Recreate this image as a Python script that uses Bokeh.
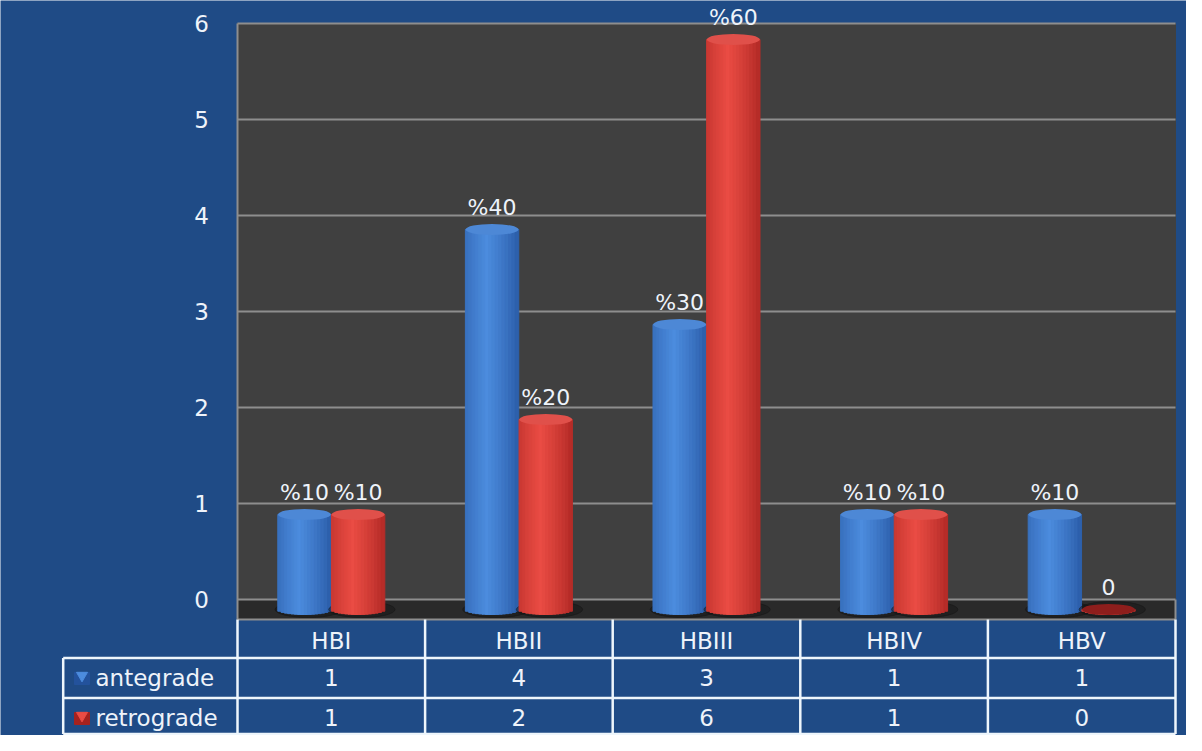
import numpy as np
from bokeh.plotting import figure
from bokeh.models import Range1d, ColumnDataSource, LabelSet
from bokeh.core.properties import value
from bokeh.embed import file_html
from bokeh.resources import INLINE

# ---------------- data ----------------
categories = ["HBI", "HBII", "HBIII", "HBIV", "HBV"]
series_names = ["antegrade", "retrograde"]
antegrade = [1, 4, 3, 1, 1]
retrograde = [1, 2, 6, 1, 0]
antegrade_labels = ["%10", "%40", "%30", "%10", "%10"]
retrograde_labels = ["%10", "%20", "%60", "%10", "0"]
y_ticks = [0, 1, 2, 3, 4, 5, 6]

# ---------------- style / layout ----------------
W, H = 1186, 735
FONT = "DejaVu Sans"
FS = "23px"
FS_LBL = "22px"
BG = "#1f4b86"
WALL = "#404040"
FLOOR = "#2a2a2a"
GRID = "#8e8e8e"
TXT = "#eef3fa"
LINE = "#eef6fc"

PX_X0 = 237.0      # left edge of plot area (figure px)
PX_CAT = 187.6     # width of one category (px)
PX_ZERO = 599.0    # value 0 gridline (px from top)
PX_UNIT = 96.0     # px per value unit
BAR_ZERO = 609.0   # base of cylinders (px from top)
BAR_UNIT = 95.0

def px(fx):
    return (fx - PX_X0) / PX_CAT

def py(fy):
    return (PX_ZERO - fy) / PX_UNIT

p = figure(width=W, height=H,
           x_range=Range1d(px(0), px(W)),
           y_range=Range1d(py(H), py(0)),
           x_axis_location=None, y_axis_location=None,
           min_border=0, toolbar_location=None, output_backend="svg",
           background_fill_color=BG, border_fill_color=BG,
           outline_line_color=None)
p.extra_y_ranges = {"bars": Range1d((BAR_ZERO - H) / BAR_UNIT, BAR_ZERO / BAR_UNIT)}
for g in p.grid:
    g.visible = False

n = len(categories)
ymax = max(y_ticks)
floor_bottom = py(619)

# back wall and floor
p.quad(left=[0], right=[n], bottom=[0], top=[ymax], color=WALL)
p.quad(left=[0], right=[n], bottom=[floor_bottom], top=[0], color=FLOOR)

# gridlines
p.segment(x0=[0] * len(y_ticks), x1=[n] * len(y_ticks), y0=y_ticks, y1=y_ticks,
          line_color=GRID, line_width=2)
p.segment(x0=[0], x1=[0], y0=[floor_bottom], y1=[ymax], line_color=GRID, line_width=2)
p.segment(x0=[n], x1=[n], y0=[floor_bottom], y1=[0], line_color=GRID, line_width=2)
p.segment(x0=[0], x1=[n], y0=[floor_bottom], y1=[floor_bottom], line_color=GRID, line_width=2)

# y tick labels
p.text(x=[px(201)] * len(y_ticks), y=y_ticks, text=[str(t) for t in y_ticks],
       text_font=value(FONT), text_font_size=FS, text_color=TXT,
       text_align="center", text_baseline="middle")

# ---------------- cylinders ----------------
BW = 0.283
OFFS = [-0.143, 0.143]
series_vals = [antegrade, retrograde]
series_lbls = [antegrade_labels, retrograde_labels]
dark_cols = [(35, 82, 156), (165, 34, 31)]
light_cols = [(76, 140, 222), (234, 76, 68)]
cap_cols = ["#4d88d6", "#e0504a"]
zero_cols = ["#1d4a8f", "#8e1e1c"]
NSTRIP = 16
shade_t = np.linspace(0, 1, NSTRIP)
# brightness profile across the cylinder (light slightly left of middle)
prof = np.clip(1.0 - np.abs(shade_t - 0.4) / 0.7, 0, 1) ** 0.7
bot_r = 5.0 / BAR_UNIT

for s in range(2):
    vals = series_vals[s]
    xc = [k + 0.5 + OFFS[s] for k in range(n)]
    # shadow
    p.ellipse(x=[x + 0.02 for x in xc], y=[0] * n, width=BW * 1.25, height=16,
              height_units="screen", color="#141414", alpha=0.45, y_range_name="bars")
    for j in range(NSTRIP):
        f = prof[j]
        c = tuple(int(dark_cols[s][i] + (light_cols[s][i] - dark_cols[s][i]) * f) for i in range(3))
        col = "#%02x%02x%02x" % c
        u = (j + 0.5) / NSTRIP * 2 - 1
        xs = [x - BW / 2 + (j + 0.5) * BW / NSTRIP for x in xc]
        b = -bot_r * np.sqrt(max(0.0, 1 - u * u))
        p.vbar(x=xs, top=vals, bottom=b, width=BW / NSTRIP * 1.08, color=col,
               y_range_name="bars")
    caps = [cap_cols[s] if v > 0 else zero_cols[s] for v in vals]
    p.ellipse(x=xc, y=vals, width=BW, height=11, height_units="screen",
              fill_color=caps, line_color=None, y_range_name="bars")
    src = ColumnDataSource(dict(x=xc, y=vals, t=series_lbls[s]))
    p.add_layout(LabelSet(x="x", y="y", text="t", source=src, y_range_name="bars",
                          y_offset=15, text_font=value(FONT), text_font_size=FS_LBL,
                          text_color=TXT, text_align="center",
                          text_baseline="alphabetic"))

# ---------------- data table ----------------
r_top, r1, r2, r_bot = py(619), py(657.5), py(697.5), py(733.5)
lab_left = px(62.7)
p.segment(x0=list(range(n + 1)), x1=list(range(n + 1)),
          y0=[r_top] * (n + 1), y1=[r_bot] * (n + 1), line_color=LINE, line_width=2.5)
p.segment(x0=[lab_left], x1=[lab_left], y0=[r1], y1=[r_bot], line_color=LINE, line_width=2.5)
p.segment(x0=[lab_left] * 3, x1=[n] * 3, y0=[r1, r2, r_bot], y1=[r1, r2, r_bot],
          line_color=LINE, line_width=2.5)

cx = [k + 0.5 for k in range(n)]
p.text(x=cx, y=[py(640)] * n, text=categories, text_font=value(FONT), text_font_size=FS,
       text_color=TXT, text_align="center", text_baseline="middle")
row_y = [py(677), py(717)]
for s in range(2):
    p.text(x=cx, y=[row_y[s]] * n, text=[str(v) for v in series_vals[s]],
           text_font=value(FONT), text_font_size=FS, text_color=TXT,
           text_align="center", text_baseline="middle")
    p.text(x=[px(95)], y=[row_y[s]], text=[series_names[s]], text_font=value(FONT),
           text_font_size=FS, text_color=TXT, text_align="left", text_baseline="middle")
    mc = "#%02x%02x%02x" % dark_cols[s]
    lc = "#%02x%02x%02x" % light_cols[s]
    p.rect(x=[px(81.5)], y=[row_y[s] - 1.0 / PX_UNIT], width=15, height=12,
           width_units="screen", height_units="screen", color=mc)
    p.scatter(x=[px(81.5)], y=[row_y[s] + 2.0 / PX_UNIT], marker="inverted_triangle",
              size=11, color=lc)

open("out.html", "w").write(file_html(p, INLINE))
